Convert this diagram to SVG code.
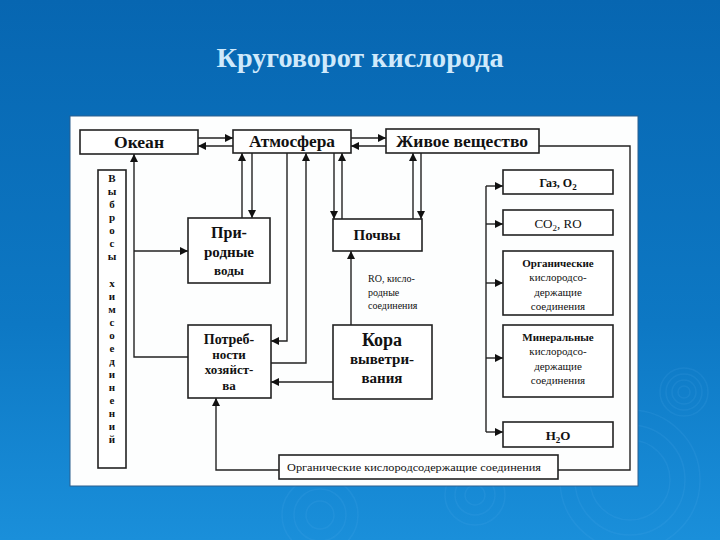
<svg xmlns="http://www.w3.org/2000/svg" width="720" height="540" viewBox="0 0 720 540">
<defs>
<linearGradient id="bg" x1="0" y1="0" x2="0" y2="1">
<stop offset="0" stop-color="#0766b1"/>
<stop offset="0.6" stop-color="#0d78c4"/>
<stop offset="1" stop-color="#1a8fda"/>
</linearGradient>
<marker id="ah" viewBox="0 0 10 10" refX="10" refY="5" markerWidth="9" markerHeight="8" orient="auto" markerUnits="userSpaceOnUse">
<path d="M0,0 L10,5 L0,10 z" fill="#111"/>
</marker>
<style>
.box{fill:#fff;stroke:#222;stroke-width:1.6}
.ln{fill:none;stroke:#222;stroke-width:1.4}
.ar{fill:none;stroke:#222;stroke-width:1.4;marker-end:url(#ah)}
.t{font-family:"Liberation Serif","Times New Roman",serif;fill:#111;text-anchor:middle}
.s{text-anchor:start}
.b{font-weight:bold}
.rip{fill:none;stroke:#5fb4ec;stroke-opacity:0.13;stroke-width:1.5}
</style>
</defs>
<rect width="720" height="540" fill="url(#bg)"/>
<g id="ripples">
<circle class="rip" cx="684" cy="392" r="6"/><circle class="rip" cx="684" cy="392" r="12"/><circle class="rip" cx="684" cy="392" r="18"/><circle class="rip" cx="684" cy="392" r="24"/>
<circle class="rip" cx="630" cy="480" r="40"/><circle class="rip" cx="630" cy="480" r="55"/><circle class="rip" cx="630" cy="480" r="70"/>
<circle class="rip" cx="320" cy="515" r="14"/><circle class="rip" cx="320" cy="515" r="26"/><circle class="rip" cx="320" cy="515" r="38"/>
<circle class="rip" cx="475" cy="495" r="10"/><circle class="rip" cx="475" cy="495" r="20"/><circle class="rip" cx="475" cy="495" r="30"/>
</g>
<text x="360" y="67" font-family="'Liberation Serif','Times New Roman',serif" font-size="27" font-weight="bold" fill="#cfe9fb" text-anchor="middle" textLength="287" lengthAdjust="spacingAndGlyphs">Круговорот кислорода</text>
<rect x="70" y="116" width="568" height="370" fill="#fdfefe" stroke="#2b5f8e" stroke-width="1"/>

<g id="connectors">
<path class="ar" d="M198,138 H233"/>
<path class="ar" d="M233,146 H198"/>
<path class="ar" d="M351,138 H386"/>
<path class="ar" d="M386,146 H351"/>
<path class="ln" d="M539,146 H630 V470 H558"/>
<path class="ar" d="M279,470 H216 V398"/>
<path class="ar" d="M188,357 H134 V154"/>
<path class="ar" d="M134,251 H188"/>
<path class="ar" d="M242,218 V153"/>
<path class="ar" d="M252,153 V218"/>
<path class="ar" d="M287,153 V341 H271"/>
<path class="ar" d="M271,363 H306 V153"/>
<path class="ar" d="M333,382 H271"/>
<path class="ar" d="M351,325 V251"/>
<path class="ar" d="M334,153 V219"/>
<path class="ar" d="M342,219 V153"/>
<path class="ar" d="M413,219 V153"/>
<path class="ar" d="M421,153 V219"/>
<path class="ln" d="M486,186 V432"/>
<path class="ar" d="M486,186 H503"/>
<path class="ar" d="M486,224 H503"/>
<path class="ar" d="M486,283 H503"/>
<path class="ar" d="M486,358 H503"/>
<path class="ar" d="M486,432 H503"/>
<text class="t s" font-size="10" x="368" y="282">RO, кисло-</text>
<text class="t s" font-size="10" x="368" y="296">родные</text>
<text class="t s" font-size="10" x="368" y="309">соединения</text>
</g>

<g id="ocean"><rect class="box" x="80" y="130" width="118" height="24"/><text class="t b" x="139" y="148" font-size="16" textLength="50" lengthAdjust="spacingAndGlyphs">Океан</text></g>
<g id="atmosphere"><rect class="box" x="233" y="130" width="118" height="23"/><text class="t b" x="292" y="147" font-size="16" textLength="86" lengthAdjust="spacingAndGlyphs">Атмосфера</text></g>
<g id="living"><rect class="box" x="386" y="129" width="153" height="24"/><text class="t b" x="462" y="147" font-size="16" textLength="132" lengthAdjust="spacingAndGlyphs">Живое вещество</text></g>

<g id="emissions"><rect class="box" x="98" y="170" width="28" height="298"/>
<g class="t b" font-size="11">
<text x="112" y="182">В</text><text x="112" y="195">ы</text><text x="112" y="208">б</text><text x="112" y="221">р</text><text x="112" y="234">о</text><text x="112" y="247">с</text><text x="112" y="260">ы</text>
<text x="112" y="287">х</text><text x="112" y="300">и</text><text x="112" y="313">м</text><text x="112" y="326">с</text><text x="112" y="339">о</text><text x="112" y="352">е</text><text x="112" y="365">д</text><text x="112" y="378">и</text><text x="112" y="391">н</text><text x="112" y="404">е</text><text x="112" y="417">н</text><text x="112" y="430">и</text><text x="112" y="443">й</text>
</g></g>

<g id="waters"><rect class="box" x="188" y="218" width="82" height="65"/>
<text class="t b" x="229" y="238" font-size="16">При-</text>
<text class="t b" x="229" y="257" font-size="15">родные</text>
<text class="t b" x="229" y="275" font-size="13">воды</text></g>

<g id="soils"><rect class="box" x="333" y="219" width="89" height="32"/><text class="t b" x="377" y="240" font-size="15">Почвы</text></g>

<g id="economy"><rect class="box" x="188" y="325" width="83" height="73"/>
<text class="t b" x="229" y="344" font-size="14">Потреб-</text>
<text class="t b" x="229" y="359" font-size="13">ности</text>
<text class="t b" x="229" y="374" font-size="13">хозяйст-</text>
<text class="t b" x="229" y="390" font-size="13">ва</text></g>

<g id="crust"><rect class="box" x="333" y="325" width="99" height="74"/>
<text class="t b" x="382" y="346" font-size="18">Кора</text>
<text class="t b" x="382" y="364" font-size="15">выветри-</text>
<text class="t b" x="382" y="383" font-size="15">вания</text></g>

<g id="gas"><rect class="box" x="503" y="170" width="110" height="24"/><text class="t b" x="558" y="187" font-size="12">Газ, O<tspan font-size="9" dy="3">2</tspan></text></g>
<g id="co2"><rect class="box" x="503" y="210" width="110" height="25"/><text class="t" x="558" y="228" font-size="13">CO<tspan font-size="9" dy="3">2</tspan><tspan dy="-3">, RO</tspan></text></g>
<g id="organic"><rect class="box" x="503" y="251" width="110" height="64"/>
<text class="t b" x="558" y="267" font-size="11">Органические</text>
<text class="t" x="558" y="281" font-size="11">кислородсо-</text>
<text class="t" x="558" y="296" font-size="11">держащие</text>
<text class="t" x="558" y="310" font-size="11">соединения</text></g>
<g id="mineral"><rect class="box" x="503" y="325" width="110" height="72"/>
<text class="t b" x="558" y="341" font-size="11">Минеральные</text>
<text class="t" x="558" y="355" font-size="11">кислородсо-</text>
<text class="t" x="558" y="370" font-size="11">держащие</text>
<text class="t" x="558" y="384" font-size="11">соединения</text></g>
<g id="water"><rect class="box" x="503" y="422" width="110" height="25"/><text class="t b" x="558" y="440" font-size="13">H<tspan font-size="9" dy="3">2</tspan><tspan dy="-3">O</tspan></text></g>
<g id="organic-bottom"><rect class="box" x="279" y="455" width="279" height="24"/><text class="t" x="414" y="471" font-size="11" textLength="254" lengthAdjust="spacingAndGlyphs">Органические кислородсодержащие соединения</text></g>
</svg>
